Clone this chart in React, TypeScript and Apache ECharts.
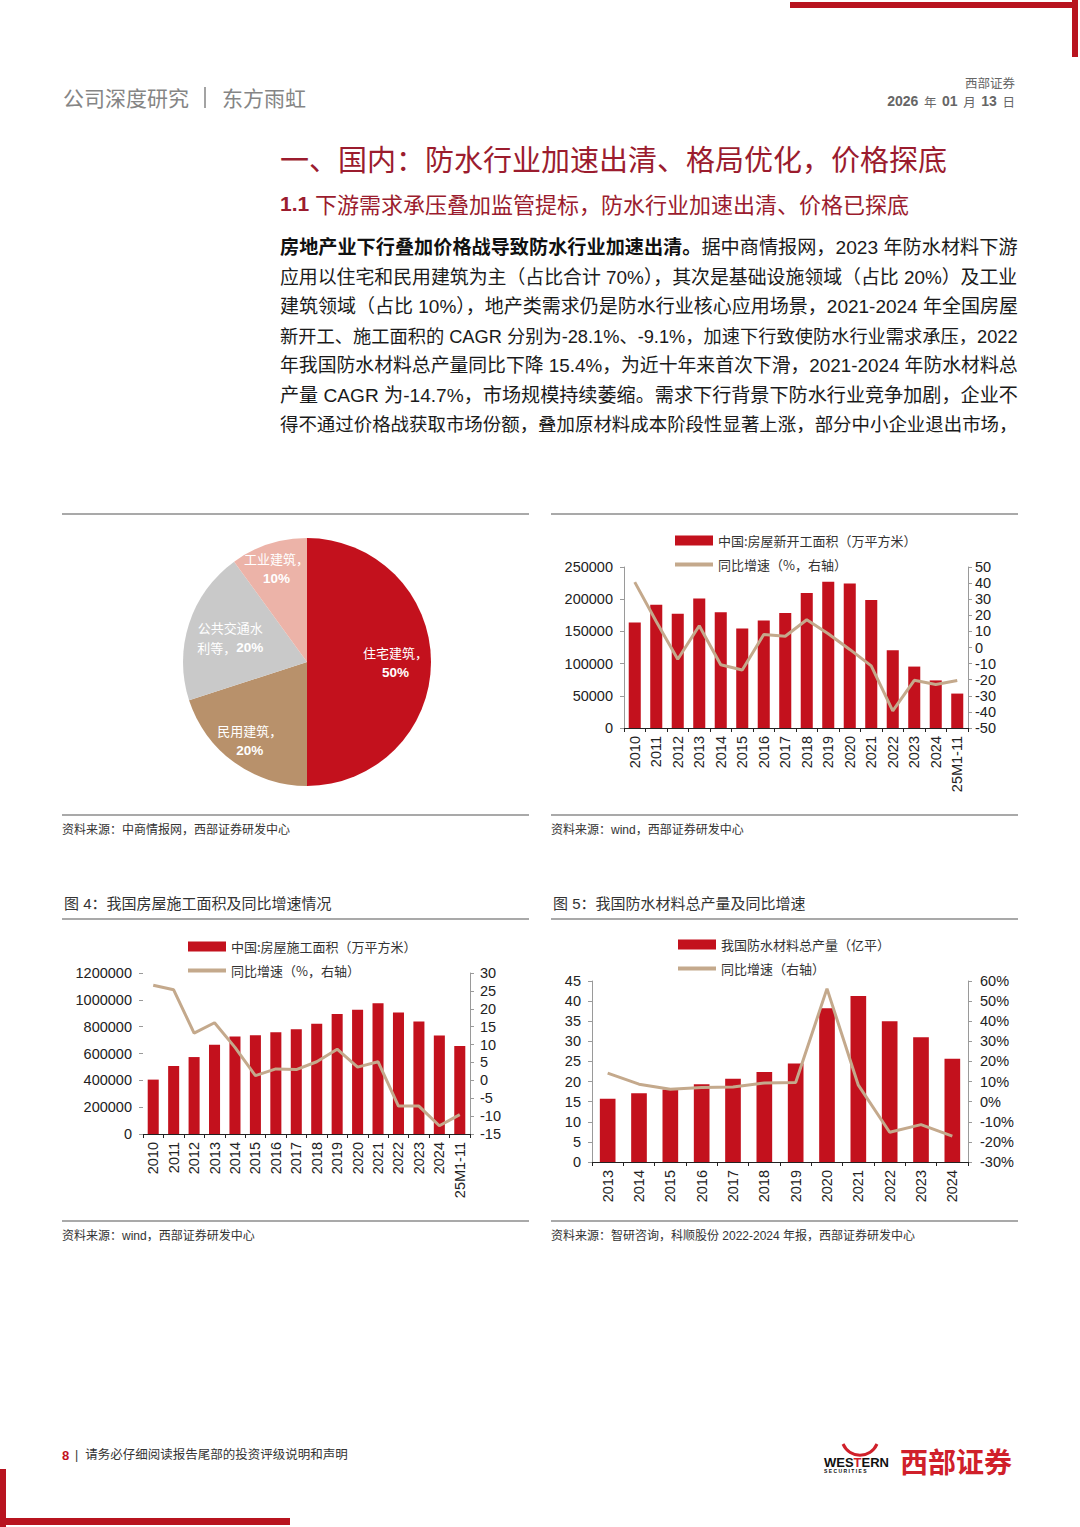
import React, { useEffect, useRef } from "react";
import * as echarts from "echarts";

// ---------- data ----------
const pieNames = ["住宅建筑", "民用建筑", "公共交通水利等", "工业建筑"];
const pieValues = [50, 20, 20, 10];

const startYears = ["2010", "2011", "2012", "2013", "2014", "2015", "2016", "2017", "2018", "2019", "2020", "2021", "2022", "2023", "2024", "25M1-11"];
const startArea = [163647, 191237, 177334, 201208, 179592, 154454, 166928, 178654, 209537, 227154, 224433, 198895, 120587, 95376, 73893, 53457];
const startYoy = [40.6, 16.2, -7.3, 13.5, -10.7, -14.0, 8.1, 7.0, 17.2, 8.5, -1.2, -11.4, -39.4, -20.4, -23.0, -20.5];

const constrYears = ["2010", "2011", "2012", "2013", "2014", "2015", "2016", "2017", "2018", "2019", "2020", "2021", "2022", "2023", "2024", "25M1-11"];
const constrArea = [405356, 506775, 573418, 665572, 726482, 735693, 758975, 781484, 822300, 893821, 926759, 975387, 904999, 838364, 733247, 656066];
const constrYoy = [26.6, 25.3, 13.2, 16.1, 9.2, 1.3, 3.2, 3.0, 5.2, 8.7, 3.7, 5.2, -7.2, -7.2, -12.7, -9.6];

const wpYears = ["2013", "2014", "2015", "2016", "2017", "2018", "2019", "2020", "2021", "2022", "2023", "2024"];
const wpOutput = [15.7, 17.1, 18.0, 19.3, 20.7, 22.4, 24.5, 38.2, 41.3, 35.0, 31.0, 25.7];
const wpYoy = [14.2, 8.7, 6.2, 7.0, 7.3, 9.3, 9.5, 56.2, 8.2, -15.2, -11.4, -17.1];

const S2BAR = "中国:房屋新开工面积（万平方米）";
const S2LINE = "同比增速（%，右轴）";
const S4BAR = "中国:房屋施工面积（万平方米）";
const S4LINE = "同比增速（%，右轴）";
const S5BAR = "我国防水材料总产量（亿平）";
const S5LINE = "同比增速（右轴）";

const paraLead = "房地产业下行叠加价格战导致防水行业加速出清。";
const paraLines = [
  "据中商情报网，2023 年防水材料下游",
  "应用以住宅和民用建筑为主（占比合计 70%），其次是基础设施领域（占比 20%）及工业",
  "建筑领域（占比 10%），地产类需求仍是防水行业核心应用场景，2021-2024 年全国房屋",
  "新开工、施工面积的 CAGR 分别为-28.1%、-9.1%，加速下行致使防水行业需求承压，2022",
  "年我国防水材料总产量同比下降 15.4%，为近十年来首次下滑，2021-2024 年防水材料总",
  "产量 CAGR 为-14.7%，市场规模持续萎缩。需求下行背景下防水行业竞争加剧，企业不",
  "得不通过价格战获取市场份额，叠加原材料成本阶段性显著上涨，部分中小企业退出市场，",
];

// ---------- styles ----------
const FONT = "'Liberation Sans','Noto Sans CJK SC',sans-serif";
const CJK = "'Noto Sans CJK SC','Liberation Sans',sans-serif";
const RED = "#c3111d";
const TAN = "#c4a98c";
const DARKRED = "#9b1c2e";
const pieColors = [RED, "#b8916b", "#c9c9c9", "#ecb3a8"];
const PIE_CX = 307;
const PIE_CY = 662;
const pieLabelPush = [0.36, 0.5, 0.24, 0.52];
const PARA_X = 280;
const PARA_W = 738;
const PARA_BASE = 18.5;
const LINE_ICON = "path://M0,0L38,0L38,4L0,4Z";

function txt(x: number, y: number, text: string, o: any = {}) {
  const align = o.align ?? "left";
  return {
    type: "text",
    x,
    y,
    silent: true,
    z: 10,
    style: {
      text,
      fill: o.fill ?? "#333",
      fontSize: o.size ?? 13,
      fontFamily: o.family ?? FONT,
      fontWeight: o.weight ?? "normal",
      align,
      verticalAlign: "middle",
      textAlign: align,
      textVerticalAlign: "middle",
      ...(o.rich ? { rich: o.rich } : {}),
    },
  };
}

function hline(x1: number, x2: number, y: number, color = "#555", w = 1.2) {
  return { type: "line", silent: true, shape: { x1, y1: y, x2, y2: y }, style: { stroke: color, lineWidth: w } };
}

function catAxis(grid: number, data: string[]) {
  return {
    type: "category",
    gridIndex: grid,
    data,
    axisLine: { onZero: false, lineStyle: { color: "#222", width: 1 } },
    axisTick: { show: true, length: 4, lineStyle: { color: "#222" } },
    axisLabel: { rotate: 90, interval: 0, fontSize: 14.5, color: "#222", margin: 8, fontFamily: FONT },
  };
}

function valAxis(grid: number, pos: string, min: number, max: number, interval: number, margin: number, fmt?: any, line = true) {
  return {
    type: "value",
    gridIndex: grid,
    position: pos,
    min,
    max,
    interval,
    splitLine: { show: false },
    axisLine: { show: line, lineStyle: { color: "#9a9a9a" } },
    axisTick: { show: true, length: 4, lineStyle: { color: "#9a9a9a" } },
    axisLabel: { fontSize: 14.5, color: "#222", margin, fontFamily: FONT, formatter: fmt ?? ((v: number) => String(v)) },
  };
}

function legendAt(left: number, top: number, barName: string, lineName: string) {
  return {
    left,
    top,
    padding: 0,
    orient: "vertical",
    itemWidth: 38,
    itemHeight: 10,
    itemGap: 9,
    selectedMode: false,
    data: [{ name: barName, icon: "rect" }, { name: lineName, icon: LINE_ICON }],
    textStyle: { fontSize: 13, fontFamily: CJK, color: "#333", lineHeight: 15 },
  };
}

export default function App() {
  const ref = useRef<HTMLDivElement>(null);

  useEffect(() => {
    if (!ref.current) return;
    const chart = echarts.init(ref.current, null, { renderer: "svg" });

    // measure line widths so each paragraph line fills the column like the justified original
    const ctx = document.createElement("canvas").getContext("2d");
    const measure = (s: string, weight: string) => {
      if (!ctx) return PARA_W;
      ctx.font = `${weight} ${PARA_BASE}px ${FONT}`;
      return ctx.measureText(s).width;
    };
    const fit = (w: number) => Math.max(0.95, Math.min(1.05, PARA_W / w)) * PARA_BASE;

    const firstW = measure(paraLead, "bold") + measure(paraLines[0], "normal");
    const firstSize = fit(firstW);
    const bodyRich = {
      b: { fontSize: firstSize, fontFamily: FONT, fontWeight: "bold", fill: "#111", color: "#111" },
      r: { fontSize: firstSize, fontFamily: FONT, fontWeight: "normal", fill: "#1a1a1a", color: "#1a1a1a" },
    };
    const paraTexts = paraLines.slice(1).map((l, i) =>
      txt(PARA_X, 277 + i * 29.5, l, { size: fit(measure(l, "normal")), fill: "#1a1a1a" })
    );

    const graphics: any[] = [
      // decorative frame
      { type: "rect", silent: true, shape: { x: 790, y: 2, width: 288, height: 6 }, style: { fill: "#b8141f" } },
      { type: "rect", silent: true, shape: { x: 1072, y: 0, width: 6, height: 57 }, style: { fill: "#b8141f" } },
      { type: "rect", silent: true, shape: { x: 0, y: 1469, width: 6, height: 58 }, style: { fill: "#b8141f" } },
      { type: "rect", silent: true, shape: { x: 0, y: 1518, width: 290, height: 7 }, style: { fill: "#b8141f" } },
      // header
      txt(63, 97, "公司深度研究", { size: 21, fill: "#858585", family: CJK }),
      { type: "line", silent: true, shape: { x1: 205, y1: 87, x2: 205, y2: 108 }, style: { stroke: "#858585", lineWidth: 1.5 } },
      txt(222, 97, "东方雨虹", { size: 21, fill: "#858585", family: CJK }),
      txt(1015, 82, "西部证券", { size: 12.5, fill: "#666", align: "right", family: CJK }),
      txt(1015, 101, "{d|2026}{c|  年  }{d|01}{c|  月  }{d|13}{c|  日}", {
        size: 13.5,
        fill: "#666",
        align: "right",
        rich: {
          d: { fontSize: 14, fontFamily: FONT, fontWeight: "bold", fill: "#666", color: "#666" },
          c: { fontSize: 12.5, fontFamily: CJK, fontWeight: "normal", fill: "#666", color: "#666" },
        },
      }),
      // titles
      txt(280, 158, "一、国内：防水行业加速出清、格局优化，价格探底", { size: 29, fill: DARKRED, family: CJK }),
      txt(280, 203, "{n|1.1 }{t|下游需求承压叠加监管提标，防水行业加速出清、价格已探底}", {
        size: 22,
        fill: DARKRED,
        rich: {
          n: { fontSize: 21, fontFamily: FONT, fontWeight: "bold", fill: DARKRED, color: DARKRED },
          t: { fontSize: 22, fontFamily: CJK, fontWeight: "normal", fill: DARKRED, color: DARKRED },
        },
      }),
      // paragraph
      txt(PARA_X, 247, `{b|${paraLead}}{r|${paraLines[0]}}`, { size: firstSize, fill: "#1a1a1a", rich: bodyRich }),
      ...paraTexts,
      // panel rules
      hline(62, 529, 514),
      hline(551, 1018, 514),
      hline(62, 529, 815),
      hline(551, 1018, 815),
      txt(62, 830, "资料来源：中商情报网，西部证券研发中心", { size: 12, fill: "#333" }),
      txt(551, 830, "资料来源：wind，西部证券研发中心", { size: 12, fill: "#333" }),
      txt(64, 903, "图 4：我国房屋施工面积及同比增速情况", { size: 15, fill: "#333" }),
      txt(553, 903, "图 5：我国防水材料总产量及同比增速", { size: 15, fill: "#333" }),
      hline(62, 529, 919),
      hline(551, 1018, 919),
      hline(62, 529, 1221),
      hline(551, 1018, 1221),
      txt(62, 1236, "资料来源：wind，西部证券研发中心", { size: 12, fill: "#333" }),
      txt(551, 1236, "资料来源：智研咨询，科顺股份 2022-2024 年报，西部证券研发中心", { size: 12, fill: "#333" }),
      // footer
      txt(62, 1455, "8", { size: 13, fill: "#c3111d", weight: "bold" }),
      txt(75, 1455, "|  请务必仔细阅读报告尾部的投资评级说明和声明", { size: 12.5, fill: "#333" }),
      {
        type: "bezierCurve",
        silent: true,
        shape: { x1: 843, y1: 1444, x2: 877, y2: 1444, cpx1: 850, cpy1: 1459, cpx2: 870, cpy2: 1459 },
        style: { stroke: "#d0202a", lineWidth: 3, fill: null },
      },
      txt(824, 1462, "{k|WES}{r|T}{k|ERN}", {
        size: 13,
        rich: {
          k: { fontSize: 13, fontFamily: FONT, fontWeight: "bold", fill: "#111", color: "#111" },
          r: { fontSize: 13, fontFamily: FONT, fontWeight: "bold", fill: "#d0202a", color: "#d0202a" },
        },
      }),
      txt(824, 1471, "S E C U R I T I E S", { size: 5, fill: "#111", weight: "bold" }),
      txt(900, 1461, "西部证券", { size: 28, fill: "#d0202a", weight: "bold", family: CJK }),
    ];

    const option: any = {
      animation: false,
      textStyle: { fontFamily: FONT },
      graphic: { elements: graphics },
      legend: [
        legendAt(675, 533, S2BAR, S2LINE),
        legendAt(188, 939, S4BAR, S4LINE),
        legendAt(678, 937, S5BAR, S5LINE),
      ],
      grid: [
        { left: 624, top: 567, width: 344, height: 161, containLabel: false },
        { left: 143, top: 973, width: 327, height: 161, containLabel: false },
        { left: 592, top: 981, width: 376, height: 181, containLabel: false },
      ],
      xAxis: [catAxis(0, startYears), catAxis(1, constrYears), catAxis(2, wpYears)],
      yAxis: [
        valAxis(0, "left", 0, 250000, 50000, 11),
        valAxis(0, "right", -50, 50, 10, 7),
        valAxis(1, "left", 0, 1200000, 200000, 11, undefined, false),
        valAxis(1, "right", -15, 30, 5, 10),
        valAxis(2, "left", 0, 45, 5, 11),
        valAxis(2, "right", -30, 60, 10, 12, (v: number) => `${v}%`),
      ],
      series: [
        {
          type: "pie",
          center: [PIE_CX, PIE_CY],
          radius: 124,
          startAngle: 90,
          clockwise: true,
          silent: true,
          data: pieNames.map((n, i) => ({ name: n, value: pieValues[i], itemStyle: { color: pieColors[i] } })),
          itemStyle: { borderWidth: 0 },
          labelLine: { show: false },
          label: {
            show: true,
            position: "inside",
            formatter: (p: any) => {
              const n: string = p.name;
              if (n.length > 4) return `{n|${n.slice(0, 5)}}\n{n|${n.slice(5)}，}{p|${p.value}%}`;
              return `{n|${n}，}\n{p|${p.value}%}`;
            },
            rich: {
              n: { fontSize: 13, fontFamily: CJK, color: "#fff", lineHeight: 20 },
              p: { fontSize: 13.5, fontFamily: FONT, fontWeight: "bold", color: "#fff", lineHeight: 20 },
            },
          },
          labelLayout: (params: any) => {
            const r = params.labelRect;
            const cx = r.x + r.width / 2;
            const cy = r.y + r.height / 2;
            const k = pieLabelPush[params.dataIndex] ?? 0.3;
            return { dx: (cx - PIE_CX) * k, dy: (cy - PIE_CY) * k };
          },
        },
        { type: "bar", name: S2BAR, xAxisIndex: 0, yAxisIndex: 0, data: startArea, barWidth: "56%", itemStyle: { color: RED } },
        { type: "line", name: S2LINE, xAxisIndex: 0, yAxisIndex: 1, data: startYoy, symbol: "none", lineStyle: { color: TAN, width: 3 }, itemStyle: { color: TAN } },
        { type: "bar", name: S4BAR, xAxisIndex: 1, yAxisIndex: 2, data: constrArea, barWidth: "54%", itemStyle: { color: RED } },
        { type: "line", name: S4LINE, xAxisIndex: 1, yAxisIndex: 3, data: constrYoy, symbol: "none", lineStyle: { color: TAN, width: 3 }, itemStyle: { color: TAN } },
        { type: "bar", name: S5BAR, xAxisIndex: 2, yAxisIndex: 4, data: wpOutput, barWidth: "50%", itemStyle: { color: RED } },
        { type: "line", name: S5LINE, xAxisIndex: 2, yAxisIndex: 5, data: wpYoy, symbol: "none", lineStyle: { color: TAN, width: 3 }, itemStyle: { color: TAN } },
      ],
    };

    chart.setOption(option);
    return () => chart.dispose();
  }, []);

  return (
    <div
      ref={ref}
      style={{ position: "absolute", left: 0, top: 0, width: 1080, height: 1527, background: "#fff" }}
    />
  );
}
